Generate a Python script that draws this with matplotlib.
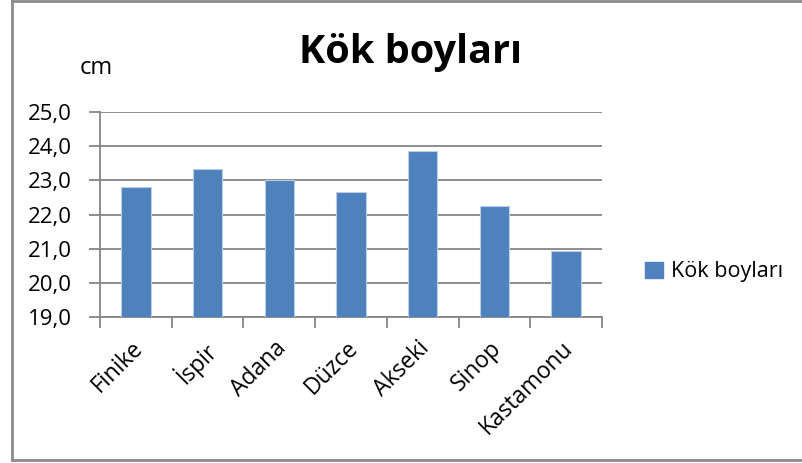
import matplotlib
matplotlib.use("Agg")
import matplotlib.pyplot as plt
import matplotlib.transforms as mtransforms
from matplotlib.lines import Line2D
from matplotlib.patches import Patch

plt.rcParams['font.family'] = ['Open Sans', 'DejaVu Sans']

cities = ["Finike", "İspir", "Adana", "Düzce", "Akseki", "Sinop", "Kastamonu"]
kok_boy = [22.8, 23.33, 23.0, 22.65, 23.87, 22.25, 20.93]
y_ticks = [19, 20, 21, 22, 23, 24, 25]
y_labels = ["19,0", "20,0", "21,0", "22,0", "23,0", "24,0", "25,0"]

W, H = 802, 463
fig = plt.figure(figsize=(W / 100, H / 100), dpi=100)
ax = fig.add_axes([100 / W, 1 - 317 / H, 502 / W, 205 / H])

grid_c = "#868686"
bar_c = "#4F81BD"

x = range(len(cities))
ax.bar(x, kok_boy, width=0.41, color=bar_c, edgecolor="#B9CDE5",
       linewidth=0.8, zorder=3, label="Kök boyları")

ax.set_xlim(-0.5, len(cities) - 0.5)
ax.set_ylim(19, 25)
ax.set_yticks(y_ticks)
ax.set_yticklabels(y_labels, fontsize=16)
ax.yaxis.grid(True, color=grid_c, linewidth=1.3, zorder=0)

# category labels at centres, tick marks at boundaries
ax.set_xticks(list(x))
ax.set_xticklabels(cities, fontsize=16.5, rotation=45, ha="right",
                   rotation_mode="anchor")
ax.set_xticks([i - 0.5 for i in range(len(cities) + 1)], minor=True)
ax.tick_params(axis="x", which="major", length=0, pad=14)
ax.tick_params(axis="x", which="minor", length=8, color=grid_c, width=1.3)
ax.tick_params(axis="y", length=8, color=grid_c, width=1.3, pad=12)

shift = mtransforms.ScaledTranslation(-5 / 100, 0, fig.dpi_scale_trans)
for lab in ax.get_xticklabels():
    lab.set_transform(lab.get_transform() + shift)

for s in ["top", "right"]:
    ax.spines[s].set_visible(False)
for s in ["left", "bottom"]:
    ax.spines[s].set_color(grid_c)
    ax.spines[s].set_linewidth(1.3)

fig.text(411 / W, 1 - 52 / H, "Kök boyları", fontsize=28.5, fontweight="bold",
         ha="center", va="center")
fig.text(96 / W, 1 - 68 / H, "cm", fontsize=17, ha="center", va="center")

ax.legend(handles=[Patch(color=bar_c, label="Kök boyları")],
          loc="center left", bbox_to_anchor=(626 / W, 1 - 272 / H),
          bbox_transform=fig.transFigure, frameon=False, fontsize=15.5,
          handlelength=0.8, handleheight=0.8, handletextpad=0.4)

# outer chart border (left, top, bottom visible)
bc = "#8C8C8C"
fig.add_artist(Line2D([11.5 / W, 11.5 / W], [1 - 460 / H, 1], color=bc, lw=2,
                      transform=fig.transFigure))
fig.add_artist(Line2D([11.5 / W, 1], [1 - 0.8 / H, 1 - 0.8 / H], color=bc, lw=2,
                      transform=fig.transFigure))
fig.add_artist(Line2D([11.5 / W, 1], [1 - 460 / H, 1 - 460 / H], color=bc, lw=2,
                      transform=fig.transFigure))

fig.savefig("out.png", dpi=100)
